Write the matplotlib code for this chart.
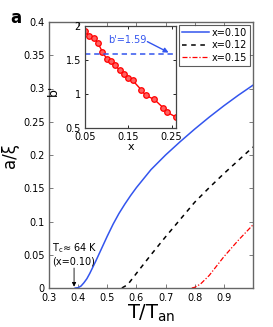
import matplotlib
matplotlib.use("Agg")
import matplotlib.pyplot as plt

plt.rcParams['font.family'] = ['DejaVu Sans']
plt.rcParams['mathtext.default'] = 'regular'

# main panel data
t_010 = [0.39, 0.40, 0.41, 0.42, 0.43, 0.44, 0.46, 0.48, 0.50, 0.52, 0.54, 0.56, 0.58, 0.60,
         0.65, 0.70, 0.75, 0.80, 0.85, 0.90, 0.95, 1.00]
a_010 = [0.0, 0.0005, 0.003, 0.008, 0.014, 0.022, 0.040, 0.059, 0.078, 0.096, 0.112, 0.126,
         0.139, 0.151, 0.178, 0.200, 0.220, 0.239, 0.257, 0.274, 0.290, 0.305]
t_012 = [0.55, 0.57, 0.60, 0.65, 0.70, 0.75, 0.80, 0.85, 0.90, 0.95, 1.00]
a_012 = [0.0, 0.005, 0.022, 0.050, 0.077, 0.103, 0.129, 0.151, 0.172, 0.192, 0.212]
t_015 = [0.79, 0.80, 0.82, 0.85, 0.90, 0.95, 1.00]
a_015 = [0.0, 0.001, 0.006, 0.019, 0.047, 0.072, 0.095]
labels = ['x=0.10', 'x=0.12', 'x=0.15']

xticks = [0.3, 0.4, 0.5, 0.6, 0.7, 0.8, 0.9]
yticks = [0, 0.05, 0.1, 0.15, 0.2, 0.25, 0.3, 0.35, 0.4]
ytick_labels = ['0', '0.05', '0.1', '0.15', '0.2', '0.25', '0.3', '0.35', '0.4']

# inset data
x_in = [0.05, 0.06, 0.07, 0.08, 0.09, 0.10, 0.11, 0.12, 0.13, 0.14, 0.15, 0.16, 0.18, 0.19, 0.21, 0.23, 0.24, 0.26]
b_in = [1.92, 1.85, 1.82, 1.75, 1.62, 1.52, 1.48, 1.42, 1.35, 1.29, 1.24, 1.20, 1.06, 0.98, 0.92, 0.80, 0.73, 0.66]
b_crit = 1.59

blue = '#3355ee'
spine_col = '#666666'

fig = plt.figure(figsize=(2.73, 3.27), dpi=100)
ax = fig.add_axes([49/273, 1-288/327, 204/273, 266/327])
ax.plot(t_010, a_010, color=blue, lw=1.1, label=labels[0])
ax.plot(t_012, a_012, color='black', lw=1.1, ls=(0, (3, 3)), label=labels[1])
ax.plot(t_015, a_015, color='red', lw=0.9, ls=(0, (4, 1.5, 1, 1.5)), label=labels[2])
ax.set_xlim(0.3, 1.0)
ax.set_ylim(0, 0.4)
ax.set_xticks(xticks)
ax.set_xticklabels([f'{v:g}' for v in xticks])
ax.set_yticks(yticks)
ax.set_yticklabels(ytick_labels)
ax.tick_params(direction='in', top=True, right=True, labelsize=7, length=3,
               width=0.6, color=spine_col, pad=3)
ax.tick_params(axis='x', pad=3.5)
for s in ax.spines.values():
    s.set_color(spine_col)
    s.set_linewidth(1.0)
ax.set_xlabel('T/T$_{an}$', fontsize=14, labelpad=0)
ax.set_ylabel('a/ξ', fontsize=12, labelpad=3)

leg = ax.legend(loc='upper right', fontsize=7, handlelength=2.8, handletextpad=0.3,
                borderpad=0.3, labelspacing=0.25, borderaxespad=0.3, fancybox=False,
                frameon=True)
leg.get_frame().set_edgecolor('#333333')
leg.get_frame().set_linewidth(0.8)

ax.text(0.312, 0.050, 'T$_c$≈ 64 K', fontsize=7, ha='left', va='bottom')
ax.text(0.312, 0.033, '(x=0.10)', fontsize=7, ha='left', va='bottom')
ax.annotate('', xy=(0.386, 0.002), xytext=(0.386, 0.030),
            arrowprops=dict(arrowstyle='-|>', color='black', lw=0.6,
                            mutation_scale=6, shrinkA=0, shrinkB=0))

fig.text(10/273, 1-23/327, 'a', fontsize=12, fontweight='bold', ha='left', va='baseline')

# inset
axi = fig.add_axes([85/273, 1-128/327, 91/273, 102/327])
axi.plot(x_in, b_in, color='red', lw=1.0, marker='o', ms=4, mfc='#ff6060', mec='red', mew=0.9)
axi.axhline(b_crit, color=blue, lw=1.1, ls=(0, (3.5, 2.5)))
axi.set_xlim(0.05, 0.26)
axi.set_ylim(0.5, 2.0)
axi.set_xticks([0.05, 0.15, 0.25])
axi.set_xticklabels(['0.05', '0.15', '0.25'])
axi.set_yticks([0.5, 1, 1.5, 2])
axi.set_yticklabels(['0.5', '1', '1.5', '2'])
axi.tick_params(direction='in', top=True, right=True, labelsize=7, length=2.5,
                width=0.6, pad=3)
for s in axi.spines.values():
    s.set_color('#444444')
    s.set_linewidth(0.9)
axi.set_xlabel('x', fontsize=8, labelpad=0)
axi.set_ylabel("b'", fontsize=9, labelpad=2)
axi.yaxis.set_label_coords(-0.28, 0.37)
axi.text(0.148, 1.80, "b'=1.59", color=blue, fontsize=7, ha='center', va='center')
axi.annotate('', xy=(0.243, 1.61), xytext=(0.194, 1.77),
             arrowprops=dict(arrowstyle='-|>', color=blue, lw=1.0,
                             mutation_scale=7, shrinkA=0, shrinkB=0))

fig.savefig('out.png', dpi=100)
